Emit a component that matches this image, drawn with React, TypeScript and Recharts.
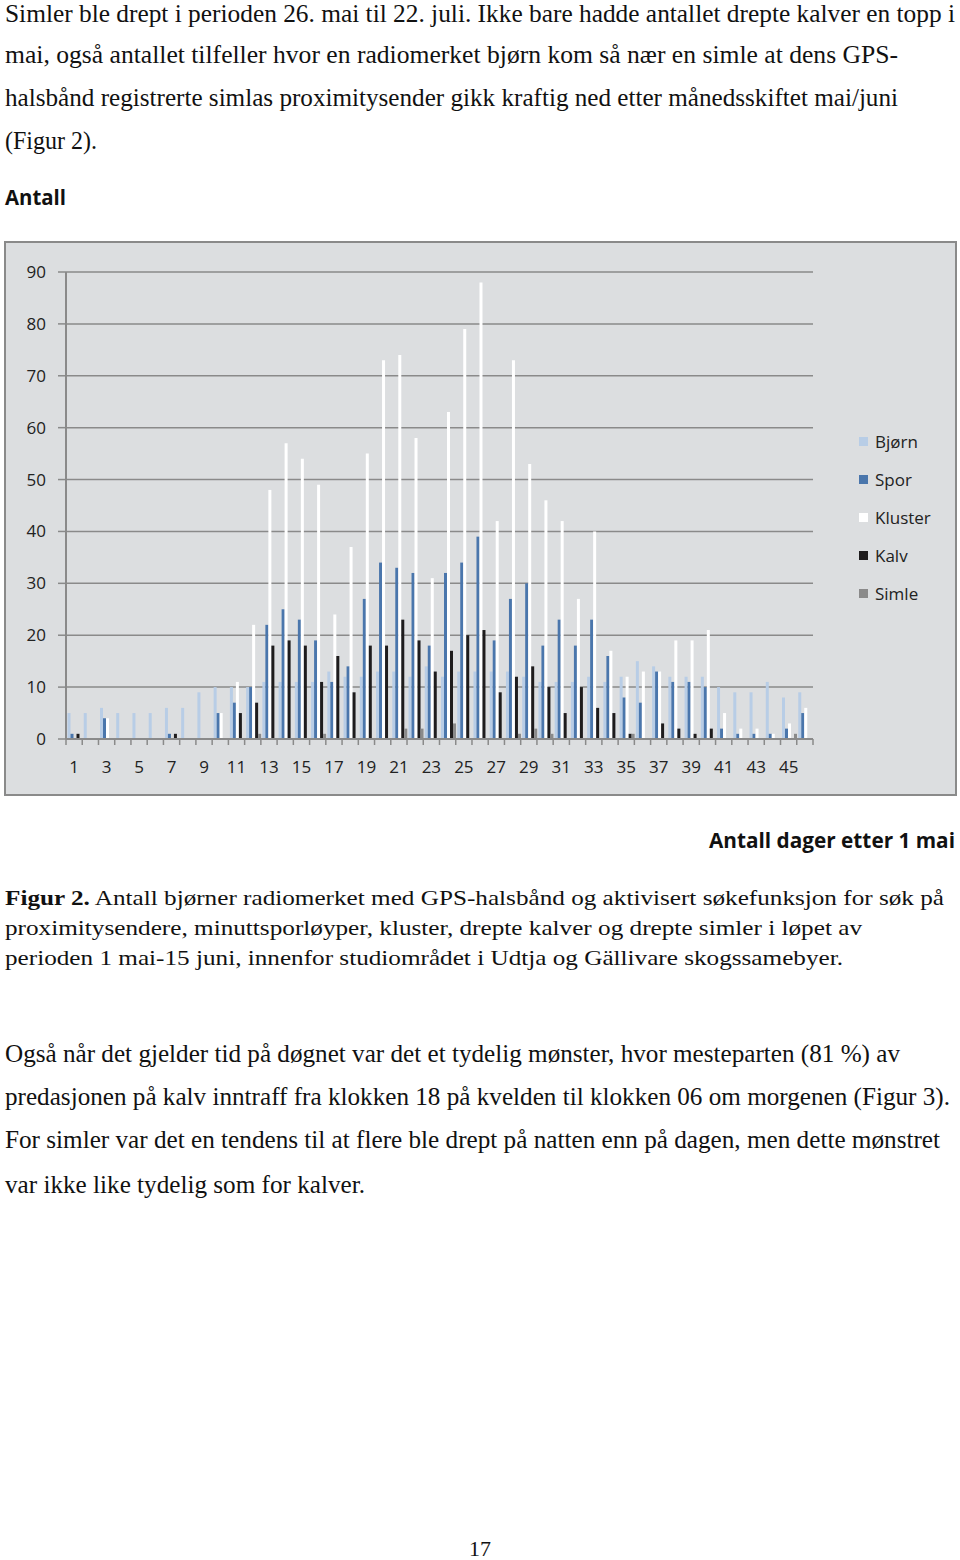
import React from 'react';
import { BarChart, Bar, XAxis, YAxis, CartesianGrid, Legend } from 'recharts';

// ---- data ----
const days = [
  1, 2, 3, 4, 5, 6, 7, 8, 9, 10, 11, 12, 13, 14, 15, 16, 17, 18, 19, 20, 21, 22, 23,
  24, 25, 26, 27, 28, 29, 30, 31, 32, 33, 34, 35, 36, 37, 38, 39, 40, 41, 42, 43, 44, 45, 46,
];
const bjorn = [
  5, 5, 6, 5, 5, 5, 6, 6, 9, 10, 10, 10, 11, 11, 11, 11, 13, 12, 12, 13, 13, 12, 14,
  12, 13, 13, 13, 13, 12, 11, 11, 11, 12, 11, 12, 15, 14, 12, 12, 12, 10, 9, 9, 11, 8, 9,
];
const spor = [
  1, 0, 4, 0, 0, 0, 1, 0, 0, 5, 7, 10, 22, 25, 23, 19, 11, 14, 27, 34, 33, 32, 18,
  32, 34, 39, 19, 27, 30, 18, 23, 18, 23, 16, 8, 7, 13, 11, 11, 10, 2, 1, 1, 1, 2, 5,
];
const kluster = [
  0, 0, 4, 0, 0, 0, 0, 0, 0, 5, 11, 22, 48, 57, 54, 49, 24, 37, 55, 73, 74, 58, 31,
  63, 79, 88, 42, 73, 53, 46, 42, 27, 40, 17, 12, 13, 13, 19, 19, 21, 5, 2, 2, 1, 3, 6,
];
const kalv = [
  1, 0, 0, 0, 0, 0, 1, 0, 0, 0, 5, 7, 18, 19, 18, 11, 16, 9, 18, 18, 23, 19, 13,
  17, 20, 21, 9, 12, 14, 10, 5, 10, 6, 5, 1, 0, 3, 2, 1, 2, 0, 0, 0, 0, 0, 0,
];
const simle = [
  0, 0, 0, 0, 0, 0, 0, 0, 0, 0, 0, 1, 0, 0, 0, 1, 0, 0, 0, 0, 2, 2, 0,
  3, 0, 0, 0, 1, 2, 1, 0, 0, 0, 0, 1, 0, 0, 0, 0, 0, 0, 0, 0, 0, 1, 0,
];
const yTicks = [0, 10, 20, 30, 40, 50, 60, 70, 80, 90];
const seriesNames = ['Bjørn', 'Spor', 'Kluster', 'Kalv', 'Simle'];
const seriesColors = ['#b8cde6', '#4a76ac', '#ffffff', '#1e1c1d', '#8a8a8a'];
const seriesValues = [bjorn, spor, kluster, kalv, simle];

const data = days.map((d, i) => {
  const row: Record<string, number> = { day: d };
  seriesNames.forEach((n, s) => {
    row[n] = seriesValues[s][i];
  });
  return row;
});

// ---- page text ----
type Line = { x: number; y: number; w: number; size: number; family: string; parts: [string, boolean][] };
const SERIF = '"Liberation Serif", "Times New Roman", serif';
const SANS = '"Open Sans", "Liberation Sans", sans-serif';
const pageLines: Line[] = [
  { x: 5, y: 22, w: 950, size: 25, family: SERIF, parts: [['Simler ble drept i perioden 26. mai til 22. juli. Ikke bare hadde antallet drepte kalver en topp i', false]] },
  { x: 5, y: 63, w: 893, size: 25, family: SERIF, parts: [['mai, også antallet tilfeller hvor en radiomerket bjørn kom så nær en simle at dens GPS-', false]] },
  { x: 5, y: 106, w: 893, size: 25, family: SERIF, parts: [['halsbånd registrerte simlas proximitysender gikk kraftig ned etter månedsskiftet mai/juni', false]] },
  { x: 5, y: 149, w: 92, size: 25, family: SERIF, parts: [['(Figur 2).', false]] },
  { x: 5, y: 205, w: 61, size: 21, family: SANS, parts: [['Antall', true]] },
  { x: 709, y: 848, w: 246, size: 21, family: SANS, parts: [['Antall dager etter 1 mai', true]] },
  { x: 5, y: 905, w: 939, size: 22, family: SERIF, parts: [['Figur 2.', true], [' Antall bjørner radiomerket med GPS-halsbånd og aktivisert søkefunksjon for søk på', false]] },
  { x: 5, y: 935, w: 857, size: 22, family: SERIF, parts: [['proximitysendere, minuttsporløyper, kluster, drepte kalver og drepte simler i løpet av', false]] },
  { x: 5, y: 965, w: 838, size: 22, family: SERIF, parts: [['perioden 1 mai-15 juni, innenfor studiområdet i Udtja og Gällivare skogssamebyer.', false]] },
  { x: 5, y: 1062, w: 895, size: 25, family: SERIF, parts: [['Også når det gjelder tid på døgnet var det et tydelig mønster, hvor mesteparten (81 %) av', false]] },
  { x: 5, y: 1105, w: 945, size: 25, family: SERIF, parts: [['predasjonen på kalv inntraff fra klokken 18 på kvelden til klokken 06 om morgenen (Figur 3).', false]] },
  { x: 5, y: 1148, w: 935, size: 25, family: SERIF, parts: [['For simler var det en tendens til at flere ble drept på natten enn på dagen, men dette mønstret', false]] },
  { x: 5, y: 1193, w: 360, size: 25, family: SERIF, parts: [['var ikke like tydelig som for kalver.', false]] },
  { x: 469, y: 1556, w: 22, size: 21, family: SERIF, parts: [['17', false]] },
];

const AXIS = '#8a8a8a';

const XTick = (props: any) => {
  const { x, y, payload, index } = props;
  const half = payload && typeof payload.offset === 'number' && payload.offset > 0 ? payload.offset : 8.13;
  const last = index === days.length - 1;
  return (
    <g>
      <line x1={x - half} x2={x - half} y1={y} y2={y + 6} stroke={AXIS} strokeWidth={1.5} />
      {last && <line x1={x + half} x2={x + half} y1={y} y2={y + 6} stroke={AXIS} strokeWidth={1.5} />}
      {index % 2 === 0 && (
        <text x={x} y={y + 27} textAnchor="middle" dominantBaseline="central" fontSize={17} style={{ fontFamily: SANS }} fill="#222">
          {payload.value}
        </text>
      )}
    </g>
  );
};

const LegendContent = () => (
  <div style={{ fontFamily: SANS, fontSize: 17, color: '#222' }}>
    {seriesNames.map((n, s) => (
      <div key={n} style={{ display: 'flex', alignItems: 'center', height: 38 }}>
        <span style={{ display: 'inline-block', width: 9, height: 9, background: seriesColors[s], marginRight: 7 }} />
        <span>{n}</span>
      </div>
    ))}
  </div>
);

export default function App() {
  return (
    <div style={{ position: 'absolute', left: 0, top: 0, width: 960, height: 1560, background: '#fff', overflow: 'hidden' }}>
      <svg width={960} height={1560} style={{ position: 'absolute', left: 0, top: 0 }}>
        {pageLines.map((l, i) => (
          <text
            key={i}
            x={l.x}
            y={l.y}
            fontSize={l.size}
            style={{ fontFamily: l.family }}
            fill="#111"
            textLength={l.w}
            lengthAdjust="spacingAndGlyphs"
          >
            {l.parts.map((p, j) => (
              <tspan key={j} fontWeight={p[1] ? 700 : 400}>
                {p[0]}
              </tspan>
            ))}
          </text>
        ))}
      </svg>
      <div
        style={{
          position: 'absolute',
          left: 4,
          top: 241,
          width: 953,
          height: 555,
          boxSizing: 'border-box',
          border: `2px solid ${AXIS}`,
          background: '#dcdee0',
        }}
      >
        <BarChart
          width={949}
          height={551}
          data={data}
          margin={{ top: 29, right: 142, bottom: 25, left: 0 }}
          barCategoryGap={1.5}
          barGap={0}
        >
          <CartesianGrid vertical={false} stroke={AXIS} strokeWidth={1.5} />
          <XAxis
            dataKey="day"
            type="category"
            interval={0}
            height={30}
            tickSize={0}
            tickMargin={0}
            tickLine={false}
            axisLine={{ stroke: AXIS, strokeWidth: 2 }}
            tick={<XTick />}
          />
          <YAxis
            domain={[0, 90]}
            ticks={yTicks}
            interval={0}
            width={60}
            tickSize={8}
            tickMargin={12}
            axisLine={{ stroke: AXIS, strokeWidth: 2 }}
            tickLine={{ stroke: AXIS, strokeWidth: 1.5 }}
            tick={{ fontSize: 17, fill: '#222', style: { fontFamily: SANS } }}
          />
          <Legend
            layout="vertical"
            align="center"
            verticalAlign="middle"
            content={<LegendContent />}
            wrapperStyle={{ left: 853, top: 179, width: 95 }}
          />
          {seriesNames.map((n, s) => (
            <Bar key={n} dataKey={n} name={n} fill={seriesColors[s]} isAnimationActive={false} />
          ))}
        </BarChart>
      </div>
    </div>
  );
}
